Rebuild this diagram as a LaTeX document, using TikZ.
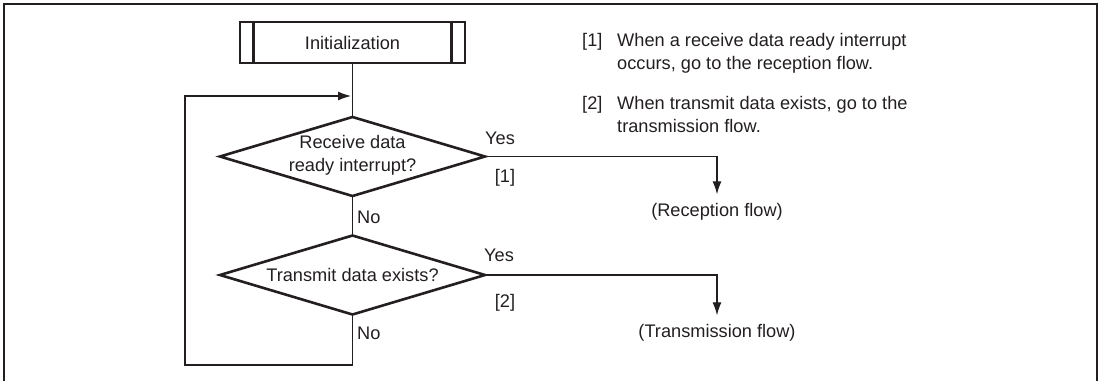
\documentclass[tikz,border=0pt]{standalone}
\usepackage{fontspec}
\setmainfont{Liberation Sans}
\usetikzlibrary{shapes.geometric,arrows.meta}
\definecolor{ink}{HTML}{231F20}

\tikzset{
  initbox/.style={draw,rectangle,line width=2.5pt,minimum width=225pt,minimum height=41pt,inner sep=0pt,outer sep=0pt},
  decide/.style={draw,diamond,line width=2.6pt,minimum width=265pt,minimum height=79pt,inner sep=0pt,outer sep=0pt},
  flowtext/.style={inner xsep=0pt,inner ysep=9pt},
  conn/.style={line width=1.2pt},
  notetext/.style={anchor=north west,inner sep=0pt,align=left},
}

\begin{document}
\begin{tikzpicture}[x=1pt,y=-1pt,>={Latex[length=13pt,width=9pt]},font=\fontsize{18.2pt}{23pt}\selectfont,color=ink]
    \useasboundingbox (0,0) rectangle (1101,381);
    % frame
    \draw[line width=2.5pt] (4,381) -- (4,4) -- (1097,4) -- (1097,381);

    % flow
    \node[initbox] (init) at (352.5,42.5) {Initialization};
    \draw[line width=2.5pt] ([xshift=13.5pt]init.north west) -- ([xshift=13.5pt]init.south west);
    \draw[line width=2.5pt] ([xshift=-13.5pt]init.north east) -- ([xshift=-13.5pt]init.south east);

    \node[decide] (d1) at (352.5,156.5) {};
    \node[align=center] (d1txt) at (352.5,155) {Receive data\\ready interrupt?};
    \node[decide] (d2) at (352.5,275) {};
    \node (d2txt) at (352.5,275) {Transmit data exists?};

    \coordinate (merge) at (351,96);
    \coordinate (looptop) at (185,96);
    \coordinate (loopbot) at (185,365);

    \node[flowtext] (recv) at (717,212) {(Reception flow)};
    \node[flowtext] (trans) at (717,333) {(Transmission flow)};

    \draw[conn] (init.south) -- (d1.north);
    \draw[conn] (d1.south) -- (d2.north);
    \draw[conn,->] (d2.south) |- (loopbot) -- (looptop) -- (merge);
    \draw[conn,->] (d1.east) -| (recv.north);
    \draw[conn,->] (d2.east) -| (trans.north);

    % labels
    \node (yes1) at (500,138) {Yes};
    \node (yes2) at (499,255) {Yes};
    \node (mk1) at (505,178) {[1]};
    \node (mk2) at (505,303) {[2]};
    \node[anchor=west,inner sep=0pt] (no1) at (357,217) {No};
    \node[anchor=west,inner sep=0pt] (no2) at (357,333) {No};

    % notes
    \node[notetext] (n1) at (582,33.3) {[1]};
    \node[notetext] (n1txt) at (617,33.3) {When a receive data ready interrupt\\occurs, go to the reception flow.};
    \node[notetext] (n2) at (582,96.3) {[2]};
    \node[notetext] (n2txt) at (617,96.3) {When transmit data exists, go to the\\transmission flow.};
\end{tikzpicture}
\end{document}
